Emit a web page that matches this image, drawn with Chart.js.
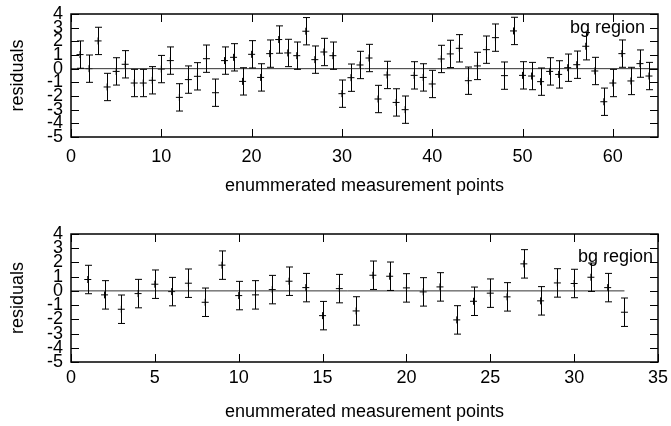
<!DOCTYPE html>
<html>
<head>
<meta charset="utf-8">
<script src="https://cdn.jsdelivr.net/npm/chart.js@4.4.1/dist/chart.umd.min.js"></script>
<style>
  body { margin: 0; background: #fff; }
  canvas { display: block; }
</style>
</head>
<body>
<canvas id="bgFitTop" width="671" height="213"></canvas>
<canvas id="bgFitBottom" width="671" height="213"></canvas>
<script>
// residuals of the first fit, points 1..64
const topResiduals = [
  1.03, 0.0, 2.03, -1.34, -0.2, 0.32, -1.05, -1.05, -0.85, -0.03,
  0.59, -2.1, -0.8, -0.56, 0.73, -1.76, 0.59, 0.83, -0.93, 1.05,
  -0.64, 1.1, 2.13, 1.15, 0.95, 2.74, 0.66, 1.22, 0.95, -1.83,
  -0.66, 0.27, 0.78, -2.22, -0.46, -2.47, -3.0, -0.49, -0.64, -1.12,
  0.71, 1.08, 1.49, -0.88, 0.2, 1.39, 2.27, -0.51, 2.76, -0.49,
  -0.54, -0.95, -0.2, -0.42, 0.07, 0.29, 1.64, -0.17, -2.42, -1.05,
  1.1, -0.9, 0.37, -0.54
];
// residuals of the second fit, points 1..33
const bottomResiduals = [
  0.8, -0.28, -1.29, -0.19, 0.47, -0.05, 0.54, -0.8, 1.81, -0.33,
  -0.28, 0.09, 0.68, 0.23, -1.74, 0.16, -1.41, 1.1, 1.03, 0.21,
  -0.07, 0.28, -2.04, -0.73, -0.16, -0.42, 1.9, -0.7, 0.56, 0.52,
  0.96, 0.23, -1.5
];
const residualError = 1.0;
const topZeroLine = [0, 65];
const bottomZeroLine = [0, 33];
const topXTicks = { min: 0, max: 65, step: 10 };
const bottomXTicks = { min: 0, max: 35, step: 5 };
const yTicks = { min: -5, max: 4, step: 1 };
const keyLabel = "bg region";
const xTitle = "enummerated measurement points";
const yTitle = "residuals";

Chart.defaults.font.family = "'Liberation Sans', Arial, Helvetica, sans-serif";
Chart.defaults.font.size = 18;
Chart.defaults.color = "#000";

function toPoints(vals) {
  return vals.map((v, i) => ({ x: i + 1, y: v }));
}

// gnuplot look: frame, inward ticks, error bars and the key text
const gnuplotFrame = {
  id: "gnuplotFrame",
  afterDatasetsDraw(chart, args, opts) {
    const { ctx, chartArea: a, scales: { x, y } } = chart;
    ctx.save();
    ctx.strokeStyle = "#000";
    ctx.lineWidth = 1;

    chart.data.datasets.forEach(ds => {
      if (!ds.errorBar) return;
      ds.data.forEach(p => {
        const px = Math.round(x.getPixelForValue(p.x)) + 0.5;
        const hi = y.getPixelForValue(p.y + ds.errorBar);
        const lo = y.getPixelForValue(p.y - ds.errorBar);
        ctx.beginPath();
        ctx.moveTo(px, hi); ctx.lineTo(px, lo);
        ctx.moveTo(px - 3.5, hi); ctx.lineTo(px + 3.5, hi);
        ctx.moveTo(px - 3.5, lo); ctx.lineTo(px + 3.5, lo);
        ctx.stroke();
      });
    });

    const tl = 8;
    ctx.beginPath();
    x.ticks.forEach(t => {
      const px = Math.round(x.getPixelForValue(t.value)) + 0.5;
      ctx.moveTo(px, a.bottom); ctx.lineTo(px, a.bottom - tl);
      ctx.moveTo(px, a.top); ctx.lineTo(px, a.top + tl);
    });
    y.ticks.forEach(t => {
      const py = Math.round(y.getPixelForValue(t.value)) + 0.5;
      ctx.moveTo(a.left, py); ctx.lineTo(a.left + tl, py);
      ctx.moveTo(a.right, py); ctx.lineTo(a.right - tl, py);
    });
    ctx.stroke();

    ctx.lineWidth = 1.5;
    ctx.strokeRect(a.left, a.top, a.right - a.left, a.bottom - a.top);

    ctx.fillStyle = "#000";
    ctx.font = "18px 'Liberation Sans', Arial, sans-serif";
    ctx.textAlign = "right";
    ctx.textBaseline = "alphabetic";
    ctx.fillText(opts.text, a.right - opts.dx, a.top + opts.dy);
    ctx.restore();
  }
};

function makeChart(id, residuals, zeroLine, xt, layout) {
  new Chart(document.getElementById(id), {
    type: "scatter",
    data: {
      datasets: [
        {
          type: "line",
          data: zeroLine.map(v => ({ x: v, y: 0 })),
          borderColor: "#333",
          borderWidth: 1,
          pointRadius: 0
        },
        {
          data: toPoints(residuals),
          errorBar: residualError,
          pointStyle: "cross",
          pointRadius: 3.5,
          borderColor: "#000",
          borderWidth: 1
        }
      ]
    },
    options: {
      responsive: false,
      animation: false,
      layout: { padding: { top: layout.top, right: 13, left: 0, bottom: 0 } },
      scales: {
        x: {
          type: "linear",
          min: xt.min,
          max: xt.max,
          grid: { display: false, drawTicks: false },
          border: { display: false },
          ticks: { stepSize: xt.step, includeBounds: false, padding: layout.tickPad, color: "#000" },
          title: { display: true, text: xTitle, color: "#000", padding: { top: 0, bottom: layout.titlePad } },
          afterFit: s => {
            s.height = layout.xHeight;
            s.paddingLeft = 0;
            s.paddingRight = 0;
          }
        },
        y: {
          min: yTicks.min,
          max: yTicks.max,
          grid: { display: false, drawTicks: false },
          border: { display: false },
          ticks: { stepSize: yTicks.step, autoSkip: false, padding: 8, color: "#000" },
          title: { display: true, text: yTitle, color: "#000", padding: { top: 7, bottom: 0 } },
          afterFit: s => {
            s.width = 71;
            s.paddingTop = 0;
            s.paddingBottom = 0;
          }
        }
      },
      plugins: {
        legend: { display: false },
        tooltip: { enabled: false },
        gnuplotFrame: { text: keyLabel, dx: layout.keyDx, dy: layout.keyDy }
      }
    },
    plugins: [gnuplotFrame]
  });
}

makeChart("bgFitTop", topResiduals, topZeroLine, topXTicks,
  { top: 14, xHeight: 76, tickPad: 9, titlePad: 16, keyDx: 13, keyDy: 19 });
makeChart("bgFitBottom", bottomResiduals, bottomZeroLine, bottomXTicks,
  { top: 21, xHeight: 64, tickPad: 5, titlePad: 3, keyDx: 5, keyDy: 28 });
</script>
</body>
</html>
